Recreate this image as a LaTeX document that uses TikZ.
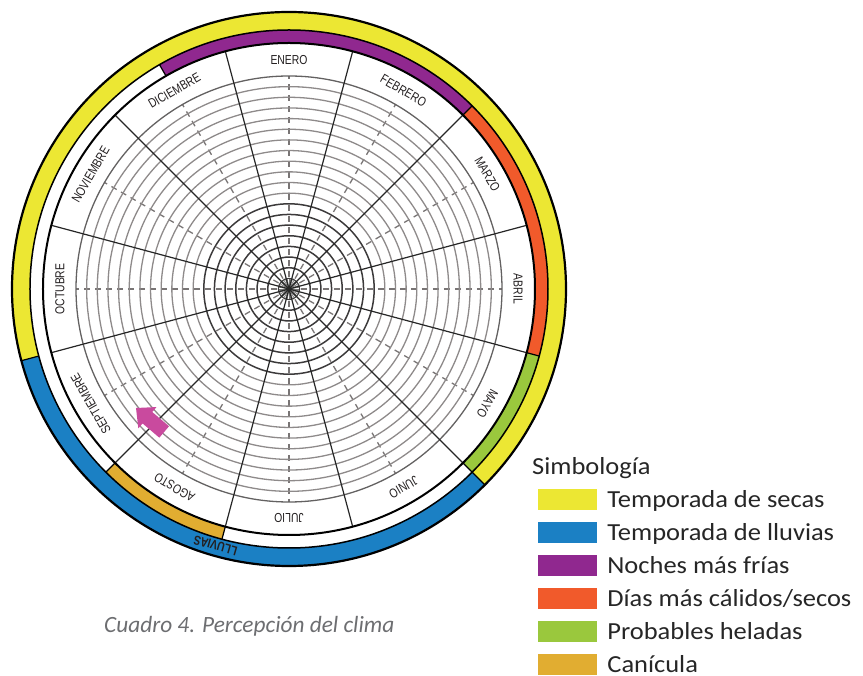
\documentclass[tikz,border=0pt]{standalone}
\usepackage{fontspec}
\usepackage{tikz}
\usetikzlibrary{positioning}
\newfontfamily\legfont[FakeStretch=1.08]{Carlito}
\newfontfamily\capfont{Carlito}
\newfontfamily\monthfont[FakeStretch=0.8]{Liberation Sans}
\definecolor{secas}{HTML}{ECE733}
\definecolor{lluvias}{HTML}{1B80C4}
\definecolor{frias}{HTML}{90288F}
\definecolor{calidos}{HTML}{F15A2B}
\definecolor{heladas}{HTML}{9AC83D}
\definecolor{canicula}{HTML}{E1AD31}
\definecolor{flecha}{HTML}{C94A9E}
\definecolor{gridgrey}{HTML}{8E8A8A}
\definecolor{griddark}{HTML}{3C3A3B}
\definecolor{capgrey}{HTML}{6D6E71}
\definecolor{inktext}{HTML}{231F20}
\newcommand{\bandseg}[5]{%
  \fill[#1] (#2:#5) arc[start angle=#2, end angle=#3, radius=#5]
    -- (#3:#4) arc[start angle=#3, end angle=#2, radius=#4] -- cycle;}

\begin{document}
\begin{tikzpicture}
[
    x=1pt, y=1pt,
    gridring/.style={draw=gridgrey, line width=1.3pt},
    darkring/.style={draw=griddark, line width=1.5pt},
    monthtick/.style={draw=gridgrey!85!black, line width=1.3pt, dash pattern=on 6pt off 5pt},
    spoke/.style={draw=black!85, line width=1.2pt},
    monthlbl/.style={font=\monthfont\fontsize{13}{14}\selectfont, text=inktext, inner sep=0pt},
    swatch/.style={minimum width=59pt, minimum height=21pt, inner sep=0pt},
    legtext/.style={font=\legfont\fontsize{24.5}{26}\selectfont, text=black!85, inner sep=0pt, text height=16pt, text depth=0pt},
]
\useasboundingbox (-289,-387) rectangle (574,289);
\bandseg{secas}{-45}{195}{259}{277}
\bandseg{lluvias}{195}{315}{259}{277}
\bandseg{frias}{45}{120}{246}{259}
\bandseg{calidos}{-15}{45}{246}{259}
\bandseg{heladas}{-45}{-15}{246}{259}
\bandseg{canicula}{225}{255}{246}{259}
\foreach \a in {0,30,...,330}
    \draw[monthtick] (\a:12) -- (\a:213);
\foreach \k in {9,...,19}
    \draw[gridring] (0,0) circle[radius=10.65*\k];
\draw[gridring, draw=gridgrey!70!black] (0,0) circle[radius=213];
\foreach \k in {2,...,8}
    \draw[darkring] (0,0) circle[radius=10.65*\k];
\foreach \a in {0,10,...,350}
    \draw[draw=griddark!70, line width=0.7pt] (0,0) -- (\a:10.65);
\draw[darkring, line width=1pt] (0,0) circle[radius=10.65];
\foreach \a in {15,45,...,345}
    \draw[spoke] (0,0) -- (\a:246);
\foreach \a in {45,-15,-45,120,225,255}
    \draw[line width=1.2pt] (\a:246) -- (\a:259);
\foreach \a in {195,-45}
    \draw[line width=1.2pt] (\a:259) -- (\a:277);
\draw[line width=2.2pt] (0,0) circle[radius=277];
\draw[line width=1.5pt] (0,0) circle[radius=259];
\draw[line width=2pt] (0,0) circle[radius=246];
\foreach \m [count=\i from 0] in {ENERO,FEBRERO,MARZO,ABRIL,MAYO,JUNIO,JULIO,AGOSTO,SEPTIEMBRE,OCTUBRE,NOVIEMBRE,DICIEMBRE}
    \node[monthlbl, rotate=-30*\i] (mes\i) at ({90-30*\i}:229) {\m};
\node[monthlbl, font=\monthfont\bfseries\fontsize{13}{14}\selectfont, rotate=164] (lluvias) at (254:267) {LLUVIAS};
\begin{scope}[shift={(-153,-119)}, rotate=139.6]
\fill[flecha] (0,0) -- (-15,14) -- (-15,7.5) -- (-37,7.5) -- (-37,-7.5) -- (-15,-7.5) -- (-15,-14) -- cycle;
\end{scope}
\node[anchor=base west, inner sep=0pt, font=\legfont\fontsize{24.5}{26}\selectfont, text=black!85] (simbologia) at (243,-186) {Simbología};
\node[swatch, fill=secas] (swsecas) at (278.5,-210.5) {};
\node[swatch, fill=lluvias, below=11.6pt of swsecas] (swlluvias) {};
\node[swatch, fill=frias, below=11.6pt of swlluvias] (swfrias) {};
\node[swatch, fill=calidos, below=11.6pt of swfrias] (swcalidos) {};
\node[swatch, fill=heladas, below=11.6pt of swcalidos] (swheladas) {};
\node[swatch, fill=canicula, below=11.6pt of swheladas] (swcanicula) {};
\node[legtext, right=10pt of swsecas] (txsecas) {Temporada de secas};
\node[legtext, right=10pt of swlluvias] (txlluvias) {Temporada de lluvias};
\node[legtext, right=10pt of swfrias] (txfrias) {Noches más frías};
\node[legtext, right=10pt of swcalidos] (txcalidos) {Días más cálidos/secos};
\node[legtext, right=10pt of swheladas] (txheladas) {Probables heladas};
\node[legtext, right=10pt of swcanicula] (txcanicula) {Canícula};
\node[anchor=base west, inner sep=0pt, font=\capfont\itshape\fontsize{23.3}{25}\selectfont, text=capgrey] (caption) at (-185,-344) {Cuadro 4. Percepción del clima};
\end{tikzpicture}
\end{document}
